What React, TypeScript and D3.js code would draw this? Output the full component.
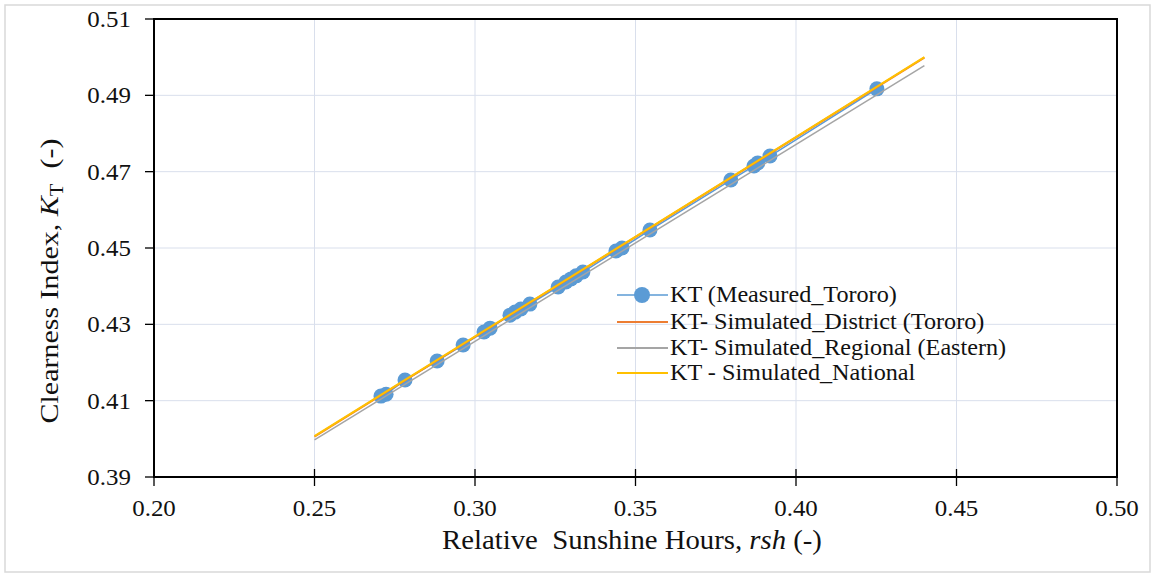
import React from "react";
import * as d3 from "d3";

const xTicks = [0.2, 0.25, 0.3, 0.35, 0.4, 0.45, 0.5];
const yTicks = [0.39, 0.41, 0.43, 0.45, 0.47, 0.49, 0.51];

const measuredRsh = [0.2707, 0.2723, 0.2782, 0.2882, 0.2963, 0.3028, 0.3047, 0.3109, 0.3125, 0.3143, 0.3171, 0.3259, 0.3283, 0.3299, 0.3315, 0.3336, 0.3439, 0.3458, 0.3545, 0.3797, 0.3869, 0.3881, 0.3919, 0.4252];
const measuredKT = [0.4112, 0.4117, 0.4154, 0.4204, 0.4246, 0.428, 0.429, 0.4324, 0.4332, 0.434, 0.4353, 0.4398, 0.4411, 0.4419, 0.4427, 0.4437, 0.4492, 0.45, 0.4547, 0.4678, 0.4715, 0.4723, 0.4741, 0.4917];

const simRsh = [0.25, 0.44];
const districtKT = [0.4006, 0.4999];
const regionalKT = [0.3997, 0.4978];
const nationalKT = [0.4007, 0.5];

const seriesNames = [
  "KT (Measured_Tororo)",
  "KT- Simulated_District (Tororo)",
  "KT- Simulated_Regional (Eastern)",
  "KT - Simulated_National",
];
const colors = ["#5B9BD5", "#ED7D31", "#A5A5A5", "#FFC000"];

const W = 1157;
const H = 577;
const L = 154, T = 19, R = 1117, B = 477;
const FONT = "Liberation Serif";
const SX = 1.085;

function Txt({ x, y, anchor = "start", size, children, rotate = 0, ...rest }: any) {
  const tr = rotate ? `translate(${x},${y}) rotate(${rotate})` : `translate(${x},${y}) scale(${SX},1)`;
  return (
    <text transform={tr} textAnchor={anchor} fontSize={size} fill="#111" style={{ fontFamily: FONT, whiteSpace: "pre" }} {...rest}>
      {children}
    </text>
  );
}

export default function App() {
  const x = d3.scaleLinear().domain([0.2, 0.5]).range([L, R]);
  const y = d3.scaleLinear().domain([0.39, 0.51]).range([B, T]);
  const line = d3.line<[number, number]>().x((d) => x(d[0])).y((d) => y(d[1]));
  const measured = measuredRsh.map((r, i) => [r, measuredKT[i]] as [number, number]);
  const sims = [districtKT, regionalKT, nationalKT].map((k) => simRsh.map((r, i) => [r, k[i]] as [number, number]));
  const legendY = [295, 322, 348, 373];

  return (
    <svg width={W} height={H} style={{ position: "absolute", left: 0, top: 0 }}>
      <rect x={0} y={0} width={W} height={H} fill="#fff" />
      <rect x={5} y={5} width={1145} height={567} fill="#fff" stroke="#D9D9D9" strokeWidth={1.5} />
      {/* grid */}
      {xTicks.slice(1, -1).map((t) => (
        <line key={"gx" + t} x1={x(t)} x2={x(t)} y1={T} y2={B} stroke="#D9DFEC" strokeWidth={1} />
      ))}
      {yTicks.slice(1, -1).map((t) => (
        <line key={"gy" + t} x1={L} x2={R} y1={y(t)} y2={y(t)} stroke="#D9DFEC" strokeWidth={1} />
      ))}
      {/* frame */}
      <rect x={L} y={T} width={R - L} height={B - T} fill="none" stroke="#000" strokeWidth={2} />
      {/* ticks */}
      {yTicks.map((t) => (
        <line key={"ty" + t} x1={L - 9} x2={L} y1={y(t)} y2={y(t)} stroke="#000" strokeWidth={1.3} />
      ))}
      {xTicks.map((t) => (
        <line key={"tx" + t} x1={x(t)} x2={x(t)} y1={B - 8} y2={B + 9} stroke="#000" strokeWidth={1.3} />
      ))}
      {yTicks.map((t) => (
        <Txt key={"ly" + t} x={131} y={y(t) + 8} anchor="end" size={23}>{t.toFixed(2)}</Txt>
      ))}
      {xTicks.map((t) => (
        <Txt key={"lx" + t} x={x(t)} y={516} anchor="middle" size={23}>{t.toFixed(2)}</Txt>
      ))}
      {/* measured */}
      <path d={line(measured) || ""} fill="none" stroke={colors[0]} strokeWidth={1.5} />
      {measured.map((d, i) => (
        <circle key={"m" + i} cx={x(d[0])} cy={y(d[1])} r={7.5} fill={colors[0]} />
      ))}
      {sims.map((s, i) => (
        <path key={"s" + i} d={line(s) || ""} fill="none" stroke={colors[i + 1]} strokeWidth={i === 1 ? 1.5 : 2} />
      ))}
      {/* legend */}
      {seriesNames.map((n, i) => (
        <g key={"lg" + i}>
          <line x1={617} x2={668} y1={legendY[i]} y2={legendY[i]} stroke={colors[i]} strokeWidth={i === 0 ? 1.5 : 2} />
          {i === 0 && <circle cx={642} cy={legendY[i]} r={8} fill={colors[0]} />}
          <Txt x={670} y={legendY[i] + 7} size={22.3}>{n}</Txt>
        </g>
      ))}
      {/* axis titles */}
      <Txt x={632} y={549} anchor="middle" size={26.5}>
        {"Relative  Sunshine Hours, "}
        <tspan fontStyle="italic">rsh</tspan>
        {" (-)"}
      </Txt>
      <Txt x={58} y={281} anchor="middle" size={26} rotate={-90} textLength={285} lengthAdjust="spacingAndGlyphs">
        {"Clearness Index, "}
        <tspan fontStyle="italic">K</tspan>
        <tspan fontSize={18} dy={5}>T</tspan>
        <tspan dy={-5}>{"  (-)"}</tspan>
      </Txt>
    </svg>
  );
}
